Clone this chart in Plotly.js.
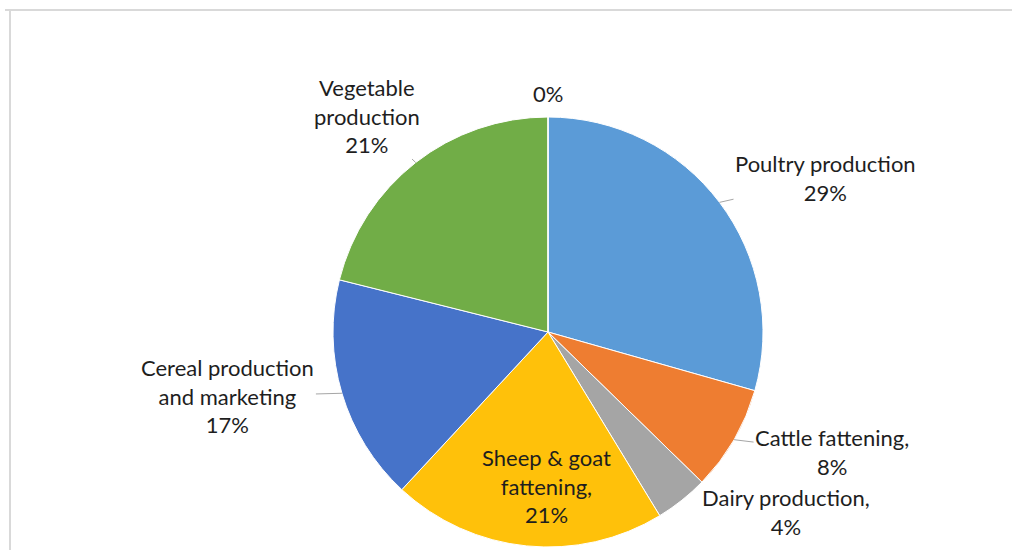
<!DOCTYPE html>
<html><head><meta charset="utf-8">
<script src="https://cdn.plot.ly/plotly-3.0.1.min.js"></script>
<style>html,body{margin:0;padding:0;background:#fff}#chart{width:1012px;height:550px}</style>
</head><body><div id="chart"></div>
<script>
// ---- data ----
const categories = ["Poultry production","Cattle fattening","Dairy production","Sheep & goat fattening","Cereal production and marketing","Vegetable production","Other"];
const shares = [29.4, 7.9, 4.0, 20.6, 17.0, 21.1, 0];
const labelNames = ["Poultry production","Cattle fattening,","Dairy production,","Sheep & goat<br>fattening,","Cereal production<br>and marketing","Vegetable<br>production",""];
// ---- style ----
const colors = ["#5B9BD7","#EE7D31","#A5A5A5","#FFC10A","#4673C9","#71AD47","#999999"];
const labelOffsets = [[106,-24],[98,12],[104,12],[20,-60],[-114,3],[-49,-47],[0,-24]];
const leaders = [true,true,false,false,true,true,false];

const W = 1012, H = 550;
const dom = {x:[0.32905,0.75395], y:[0.005455,0.787273]};
const cx = (dom.x[0]+dom.x[1])/2*W;
const cy = (dom.y[0]+dom.y[1])/2*H;
const r = Math.min((dom.x[1]-dom.x[0])*W, (dom.y[1]-dom.y[0])*H)/2;
const total = shares.reduce((a,b)=>a+b,0);

const annotations = [];
let cum = 0;
shares.forEach((v,i)=>{
  const th = 2*Math.PI*(cum + v/2)/total;
  cum += v;
  const px = cx + r*Math.sin(th);
  const py = cy + r*Math.cos(th);
  const pct = Math.round(v/total*100) + '%';
  const txt = labelNames[i] ? labelNames[i] + '<br>' + pct : pct;
  annotations.push({
    x: px/W, y: py/H, xref:'paper', yref:'paper',
    text: txt, showarrow: true, arrowhead: 0, arrowwidth: 1, standoff: 0,
    arrowcolor: leaders[i] ? '#A6A6A6' : 'rgba(0,0,0,0)',
    ax: labelOffsets[i][0], ay: labelOffsets[i][1],
    align: 'center',
    font: {family: 'Lato, sans-serif', size: 22, color: '#1e1e1e'}
  });
});

const trace = {
  type: 'pie',
  labels: categories,
  values: shares,
  sort: false,
  direction: 'clockwise',
  rotation: 0,
  textinfo: 'none',
  hoverinfo: 'none',
  showlegend: false,
  domain: dom,
  marker: {colors: colors, line: {color: '#ffffff', width: 1}}
};

const layout = {
  width: W, height: H,
  margin: {l:0, r:0, t:0, b:0},
  paper_bgcolor: '#ffffff',
  showlegend: false,
  annotations: annotations,
  shapes: [
    {type:'line', xref:'paper', yref:'paper', x0:5/W, x1:1, y0:1-10/H, y1:1-10/H, line:{color:'#D9D9D9', width:2}},
    {type:'line', xref:'paper', yref:'paper', x0:10/W, x1:10/W, y0:1-10/H, y1:0, line:{color:'#D9D9D9', width:2}}
  ]
};

Plotly.newPlot('chart', [trace], layout, {staticPlot: true, displayModeBar: false});
</script>
</body></html>
